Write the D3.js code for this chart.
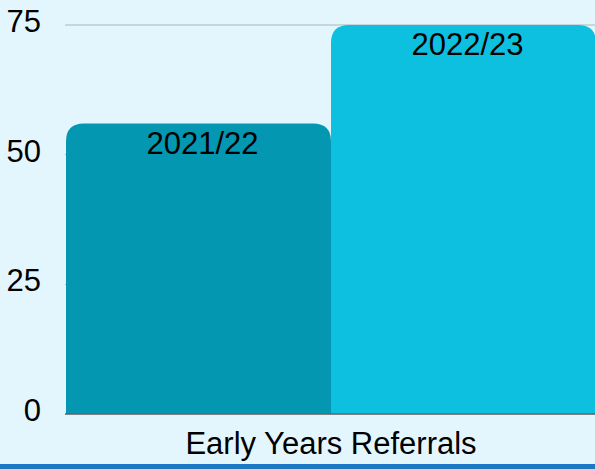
<!DOCTYPE html>
<html>
<head>
<meta charset="utf-8">
<script src="https://cdn.jsdelivr.net/npm/d3@7"></script>
<style>
	html, body { margin: 0; padding: 0; background: #e4f6fd; }
	svg { display: block; font-family: "Liberation Sans", Arial, sans-serif; }
</style>
</head>
<body>
<div id="chart"></div>
<script>
// Data
const categories = ["Early Years Referrals"];
const seriesNames = ["2021/22", "2022/23"];
const seriesValues = [[56], [75]];   // one value per category, per series
const yTicks = [0, 25, 50, 75];
const seriesColors = ["#0397b1", "#0dc0e0"];

// Size
const width = 595, height = 469;
const margin = { top: 25, right: -1, bottom: 55, left: 66 };
const radius = 18;
const fontSize = 31;

const svg = d3.select("#chart").append("svg")
	.attr("width", width).attr("height", height);

svg.append("rect")
	.attr("width", width).attr("height", height)
	.attr("fill", "#e4f6fd");

// Scales
const scaleX0 = d3.scaleBand(categories, [margin.left, width - margin.right]).padding(0);
const scaleX1 = d3.scaleBand(seriesNames, [0, scaleX0.bandwidth()]).padding(0);
const scaleY = d3.scaleLinear([0, 75], [height - margin.bottom, margin.top]);

// Grid lines
svg.append("g").selectAll("line")
	.data(yTicks)
	.join("line")
	.attr("x1", margin.left - 1).attr("x2", width)
	.attr("y1", (d) => scaleY(d)).attr("y2", (d) => scaleY(d))
	.attr("stroke", "#aab5bd").attr("stroke-width", 1);

// Y tick labels
svg.append("g").selectAll("text")
	.data(yTicks)
	.join("text")
	.attr("x", 41)
	.attr("y", (d) => scaleY(d) + 7)
	.attr("text-anchor", "end")
	.attr("font-size", fontSize)
	.attr("fill", "#000")
	.text((d) => d);

// bar with rounded top corners
function barPath(x, y, w, h, r) {
	r = Math.min(r, w / 2, h);
	return `M${x},${y + h}V${y + r}Q${x},${y} ${x + r},${y}H${x + w - r}Q${x + w},${y} ${x + w},${y + r}V${y + h}Z`;
}

const bars = [];
categories.forEach((c, ci) => {
	seriesNames.forEach((s, si) => {
		bars.push({ category: c, series: s, value: seriesValues[si][ci], color: seriesColors[si] });
	});
});

const groups = svg.append("g").selectAll("g")
	.data(bars)
	.join("g")
	.attr("transform", (d) => `translate(${scaleX0(d.category) + scaleX1(d.series)},0)`);

groups.append("path")
	.attr("fill", (d) => d.color)
	.attr("d", (d) => barPath(0, scaleY(d.value), scaleX1.bandwidth(), scaleY(0) - scaleY(d.value), radius));

groups.append("text")
	.attr("x", scaleX1.bandwidth() / 2 + 4)
	.attr("y", (d) => scaleY(d.value) + 30)
	.attr("text-anchor", "middle")
	.attr("font-size", fontSize)
	.attr("fill", "#000")
	.text((d) => d.series);

// Baseline axis
svg.append("line")
	.attr("x1", margin.left - 1).attr("x2", width)
	.attr("y1", scaleY(0)).attr("y2", scaleY(0))
	.attr("stroke", "#666").attr("stroke-width", 1.5);

// Category label
svg.append("g").selectAll("text")
	.data(categories)
	.join("text")
	.attr("x", (d) => scaleX0(d) + scaleX0.bandwidth() / 2)
	.attr("y", 454)
	.attr("text-anchor", "middle")
	.attr("font-size", fontSize)
	.attr("fill", "#000")
	.text((d) => d);

// Bottom border
svg.append("rect")
	.attr("x", 0).attr("y", height - 5)
	.attr("width", width).attr("height", 5)
	.attr("fill", "#1d78c4");
</script>
</body>
</html>
